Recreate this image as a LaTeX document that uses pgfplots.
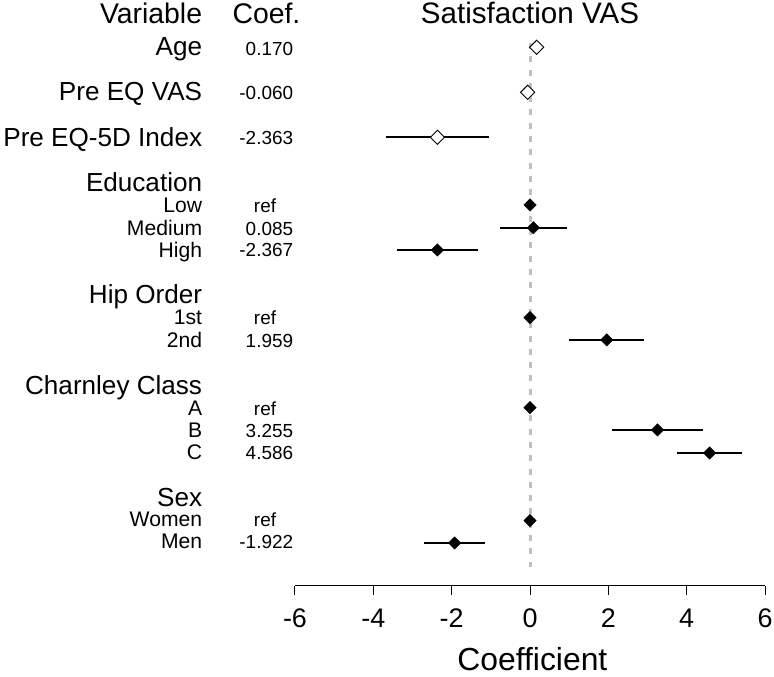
\documentclass[border=0pt]{standalone}
\usepackage{pgfplots}
\pgfplotsset{compat=1.18}
\usepackage{pgfplotstable}
\usepackage{fontspec}
\setmainfont{Liberation Sans}

% confidence intervals (rows in pixel units from the top, negated)
\pgfplotstableread{
y est lo hi
-137.3 -2.363 -3.68 -1.04
-227.7 0.085 -0.77 0.94
-250.0 -2.367 -3.40 -1.32
-340.0 1.959 1.00 2.91
-430.0 3.255 2.10 4.42
-453.0 4.586 3.76 5.42
-543.0 -1.922 -2.70 -1.15
}\cimain
\pgfplotstableread{
y est lo hi
-47.3 0.170 0.085 0.255
-92.3 -0.060 -0.095 -0.025
}\cismall
\pgfplotstableread{
y est
-47.3 0.170
-92.3 -0.060
-137.3 -2.363
}\hollow
\pgfplotstableread{
y est
-205.0 0
-227.7 0.085
-250.0 -2.367
-317.7 0
-340.0 1.959
-407.7 0
-430.0 3.255
-453.0 4.586
-520.7 0
-543.0 -1.922
}\filled

\newcommand\fHead{\fontsize{28.5}{32}\selectfont}
\newcommand\fVar{\fontsize{26.2}{30}\selectfont}
\newcommand\fSub{\fontsize{21.2}{25}\selectfont}
\newcommand\fCoef{\fontsize{19}{23}\selectfont}

\begin{document}
\begin{tikzpicture}
\begin{axis}[
  x=39.17bp, y=1bp,
  xmin=-6, xmax=6, ymin=-586, ymax=0,
  axis x line=bottom, hide y axis,
  x axis line style={-, line width=1bp},
  xtick={-6,-4,-2,0,2,4,6},
  xtick align=outside,
  major tick length=9bp,
  xtick style={line width=1bp, black},
  /pgf/number format/assume math mode=true,
  xticklabel style={font=\fontsize{27}{31}\selectfont, anchor=base, inner sep=0pt, yshift=-33bp},
  clip=false,
]
\path (axis cs:-13.531,0) rectangle (axis cs:6.229,-677);

% reference line
\addplot[draw={rgb,255:red,192;green,192;blue,192}, line width=3bp, dash pattern=on 6bp off 7.3bp] coordinates {(0,-43) (0,-567)};

% main CIs
\addplot[draw=none, mark=none, forget plot,
  error bars/.cd, x dir=both, x explicit, error mark=none,
  error bar style={draw=black, line width=2.1bp, solid}]
  table[x=est, y=y, x error plus expr=\thisrow{hi}-\thisrow{est}, x error minus expr=\thisrow{est}-\thisrow{lo}] {\cimain};

% hollow diamonds
\addplot[only marks, mark=square*, mark size=5bp,
  mark options={rotate=45, fill=white, draw=black, line width=0.9bp, solid}]
  table[x=est, y=y] {\hollow};

% small CIs on top
\addplot[draw=none, mark=none, forget plot,
  error bars/.cd, x dir=both, x explicit, error mark=none,
  error bar style={draw=black, line width=2.1bp, solid}]
  table[x=est, y=y, x error plus expr=\thisrow{hi}-\thisrow{est}, x error minus expr=\thisrow{est}-\thisrow{lo}] {\cismall};

% filled diamonds
\addplot[only marks, mark=square*, mark size=4.4bp,
  mark options={rotate=45, fill=black, draw=black, solid}]
  table[x=est, y=y] {\filled};

% titles
\node[anchor=base east, font=\fHead, inner sep=0pt] at (axis cs:-8.366,-24) {Variable};
\node[anchor=base west, font=\fHead, inner sep=0pt] at (axis cs:-7.600,-24) {Coef.};
\node[anchor=base, font=\fontsize{29.7}{33}\selectfont, inner sep=0pt] at (axis cs:0,-23.3) {Satisfaction VAS};
\node[anchor=base, font=\fontsize{32}{36}\selectfont, inner sep=0pt] at (axis cs:0.06,-671) {Coefficient};

% variable names
\begin{scope}[every node/.style={anchor=base east, inner sep=0pt}]
\node[font=\fVar] at (axis cs:-8.366,-56) {Age};
\node[font=\fVar] at (axis cs:-8.366,-100.7) {Pre EQ VAS};
\node[font=\fVar] at (axis cs:-8.366,-146.7) {Pre EQ-5D Index};
\node[font=\fVar] at (axis cs:-8.366,-191.5) {Education};
\node[font=\fSub] at (axis cs:-8.366,-213) {Low};
\node[font=\fSub] at (axis cs:-8.366,-235.5) {Medium};
\node[font=\fSub] at (axis cs:-8.366,-257.5) {High};
\node[font=\fVar] at (axis cs:-8.366,-303.5) {Hip Order};
\node[font=\fSub] at (axis cs:-8.366,-325) {1st};
\node[font=\fSub] at (axis cs:-8.366,-347.3) {2nd};
\node[font=\fVar] at (axis cs:-8.366,-394.5) {Charnley Class};
\node[font=\fSub] at (axis cs:-8.366,-416) {A};
\node[font=\fSub] at (axis cs:-8.366,-437.7) {B};
\node[font=\fSub] at (axis cs:-8.366,-460) {C};
\node[font=\fVar] at (axis cs:-8.366,-506.5) {Sex};
\node[font=\fSub] at (axis cs:-8.366,-527) {Women};
\node[font=\fSub] at (axis cs:-8.366,-548.5) {Men};

% coefficients
\node[font=\fCoef] at (axis cs:-6.043,-55.5) {0.170};
\node[font=\fCoef] at (axis cs:-6.043,-100) {-0.060};
\node[font=\fCoef] at (axis cs:-6.043,-145) {-2.363};
\node[font=\fCoef] at (axis cs:-6.043,-235.3) {0.085};
\node[font=\fCoef] at (axis cs:-6.043,-257) {-2.367};
\node[font=\fCoef] at (axis cs:-6.043,-347.3) {1.959};
\node[font=\fCoef] at (axis cs:-6.043,-437.7) {3.255};
\node[font=\fCoef] at (axis cs:-6.043,-459.6) {4.586};
\node[font=\fCoef] at (axis cs:-6.043,-548.3) {-1.922};
\end{scope}
\node[anchor=base, font=\fCoef, inner sep=0pt] at (axis cs:-6.765,-212.8) {ref};
\node[anchor=base, font=\fCoef, inner sep=0pt] at (axis cs:-6.765,-324.6) {ref};
\node[anchor=base, font=\fCoef, inner sep=0pt] at (axis cs:-6.765,-415.5) {ref};
\node[anchor=base, font=\fCoef, inner sep=0pt] at (axis cs:-6.765,-526.7) {ref};
\end{axis}
\end{tikzpicture}
\end{document}
